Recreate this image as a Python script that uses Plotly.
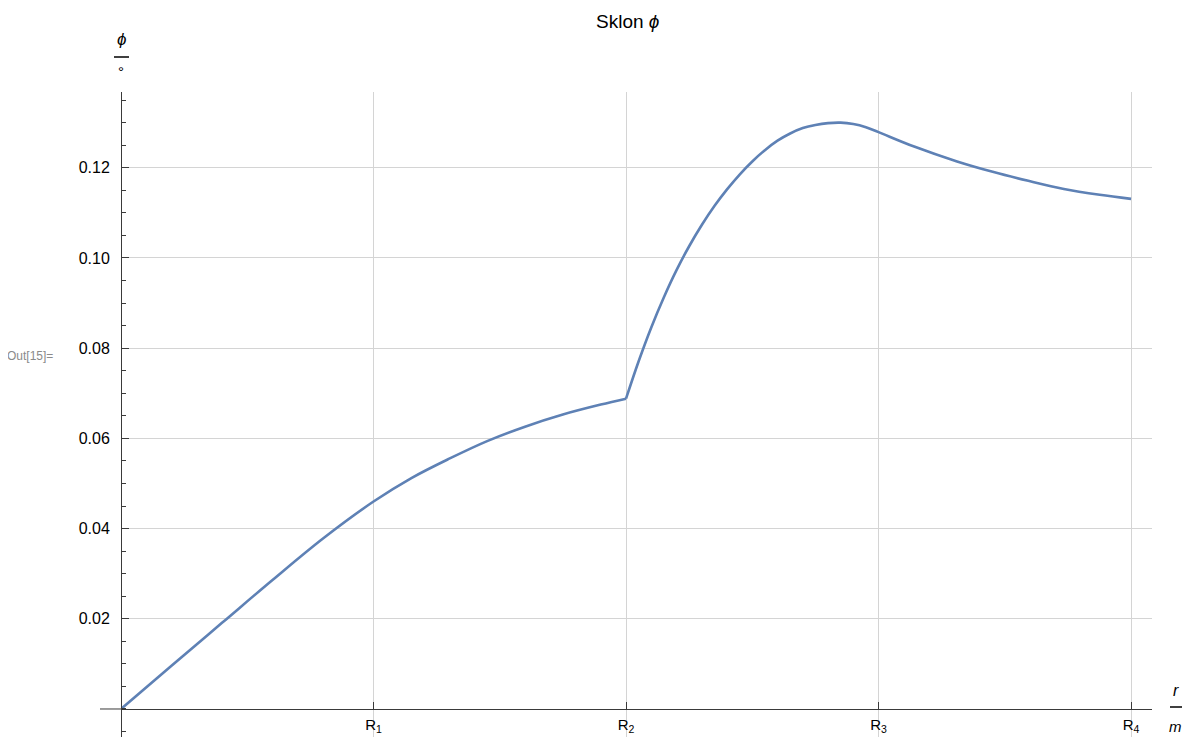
import plotly.graph_objects as go

# ---- data ----
r_seg1 = [0, 0.2, 0.4, 0.6, 0.8, 1.0, 1.15, 1.3, 1.45, 1.6, 1.75, 1.9, 2.0]
phi_seg1 = [0, 0.0096, 0.0191, 0.0286, 0.0378, 0.0460, 0.0512, 0.0555, 0.0594,
            0.0626, 0.0653, 0.0675, 0.0688]
r_seg2 = [2.0, 2.05, 2.10, 2.15, 2.20, 2.25, 2.30, 2.35, 2.40, 2.45, 2.50,
          2.55, 2.60, 2.65, 2.70, 2.75, 2.80, 2.85, 2.90, 2.95, 3.0,
          3.141, 3.311, 3.452, 3.593, 3.734, 3.876, 4.0]
phi_seg2 = [0.0688, 0.0771, 0.0846, 0.0913, 0.0973, 0.1026, 0.1073, 0.1115,
            0.1152, 0.1185, 0.1214, 0.1239, 0.1260, 0.1276, 0.1288, 0.1295,
            0.1299, 0.1300, 0.1297, 0.1290, 0.1279,
            0.1247, 0.1214, 0.1191, 0.1171, 0.1153, 0.1140, 0.1131]
x_tick_vals = [1, 2, 3, 4]
x_tick_text = ["R<sub>1</sub>", "R<sub>2</sub>", "R<sub>3</sub>", "R<sub>4</sub>"]
y_tick_vals = [0.02, 0.04, 0.06, 0.08, 0.10, 0.12]
y_tick_text = ["0.02", "0.04", "0.06", "0.08", "0.10", "0.12"]

# ---- layout geometry (page pixels; page body has an 8px margin) ----
OFF = 8
W, H = 1191 - 2 * OFF, 737 - OFF
PLOT_X0, PLOT_X1 = 121, 1152     # page px
PLOT_Y0, PLOT_Y1 = 92, 737       # page px
L = PLOT_X0 - OFF
R = W - (PLOT_X1 - OFF)
T = PLOT_Y0 - OFF
B = H - (PLOT_Y1 - OFF)
PW, PH = W - L - R, H - T - B
X_RANGE = [0, 4.083]
Y_RANGE = [-0.00621, 0.1368]

def px_x(p):
    return (p - PLOT_X0) / PW

def px_y(p):
    return (PLOT_Y1 - p) / PH

LINE_COLOR = "rgb(94,129,181)"
AXIS_COLOR = "#3a3a3a"
GRID_COLOR = "#d4d4d4"
FONT = "Liberation Sans, Arial, sans-serif"

fig = go.Figure()
for xs, ys in [(r_seg1, phi_seg1), (r_seg2, phi_seg2)]:
    fig.add_trace(go.Scatter(x=xs, y=ys, mode="lines",
                             line=dict(color=LINE_COLOR, width=2.6, shape="spline", smoothing=1.0),
                             showlegend=False, hoverinfo="skip"))

x_axis_pos = (0 - Y_RANGE[0]) / (Y_RANGE[1] - Y_RANGE[0])

fig.update_layout(
    width=W, height=H,
    margin=dict(l=L, r=R, t=T, b=B, autoexpand=False),
    paper_bgcolor="white", plot_bgcolor="white",
    font=dict(family=FONT, color="black", size=15),
    xaxis=dict(range=X_RANGE, anchor="free", position=x_axis_pos,
               showline=True, linecolor=AXIS_COLOR, linewidth=1,
               tickvals=x_tick_vals, ticktext=x_tick_text,
               ticks="inside", ticklen=7, tickcolor=AXIS_COLOR, tickwidth=1,
               showgrid=True, gridcolor=GRID_COLOR, gridwidth=1,
               zeroline=False, tickfont=dict(size=15), automargin=False,
               ticklabelstandoff=2),
    yaxis=dict(range=Y_RANGE, anchor="free", position=0,
               showline=True, linecolor=AXIS_COLOR, linewidth=1,
               tickvals=y_tick_vals, ticktext=y_tick_text,
               ticks="inside", ticklen=7, tickcolor=AXIS_COLOR, tickwidth=1,
               minor=dict(dtick=0.005, tick0=0, ticks="inside", ticklen=4,
                          tickcolor=AXIS_COLOR, showgrid=False),
               showgrid=True, gridcolor=GRID_COLOR, gridwidth=1,
               zeroline=False, tickfont=dict(size=16), automargin=False,
               ticklabelstandoff=8),
)

# x-axis line extension to the left of the y axis
fig.add_shape(type="line", xref="paper", yref="paper",
              x0=px_x(100), x1=px_x(121), y0=x_axis_pos, y1=x_axis_pos,
              line=dict(color=AXIS_COLOR, width=1))

# fraction bars for axis labels
fig.add_shape(type="line", xref="paper", yref="paper",
              x0=px_x(114), x1=px_x(129), y0=px_y(57), y1=px_y(57),
              line=dict(color="black", width=1.5))
fig.add_shape(type="line", xref="paper", yref="paper",
              x0=px_x(1170), x1=px_x(1182), y0=px_y(707), y1=px_y(707),
              line=dict(color="black", width=1.5))

annos = [
    dict(text="Sklon <i>ϕ</i>", x=px_x(627), y=px_y(21), size=19, color="black"),
    dict(text="<i>ϕ</i>", x=px_x(121), y=px_y(40), size=17, color="black"),
    dict(text="°", x=px_x(121), y=px_y(72), size=15, color="black"),
    dict(text="<i>r</i>", x=px_x(1176), y=px_y(690), size=16, color="black"),
    dict(text="<i>m</i>", x=px_x(1175), y=px_y(726), size=15, color="black"),
    dict(text="Out[15]=", x=px_x(30), y=px_y(356), size=12, color="#8a8a8a"),
]
for a in annos:
    fig.add_annotation(text=a["text"], x=a["x"], y=a["y"], xref="paper", yref="paper",
                       showarrow=False, xanchor="center", yanchor="middle",
                       font=dict(family=FONT, size=a["size"], color=a["color"]))

fig.write_html("out.html")
